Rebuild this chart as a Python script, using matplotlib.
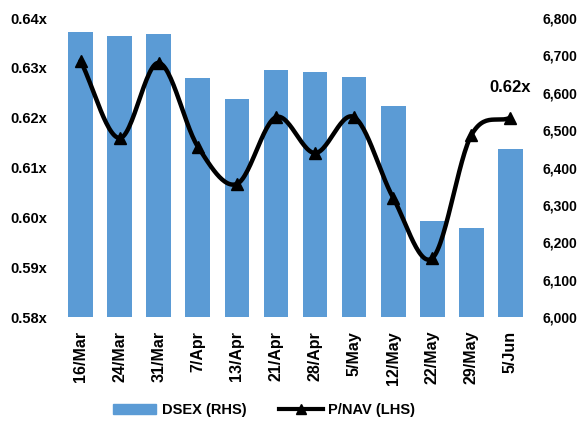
import numpy as np
import matplotlib.pyplot as plt
from matplotlib.lines import Line2D
from matplotlib.patches import Patch

plt.rcParams['font.family'] = ['Liberation Sans', 'DejaVu Sans']
plt.rcParams['font.weight'] = 'bold'

dates = ["16/Mar", "24/Mar", "31/Mar", "7/Apr", "13/Apr", "21/Apr",
         "28/Apr", "5/May", "12/May", "22/May", "29/May", "5/Jun"]
dsex = [6763, 6751, 6756, 6640, 6583, 6660, 6656, 6643, 6565, 6257, 6238, 6450]
pnav = [0.6314, 0.6159, 0.6310, 0.6142, 0.6067, 0.6201,
        0.6129, 0.6201, 0.6039, 0.5918, 0.6165, 0.6200]
last_label = "0.62x"


def catmull_rom(x, y, n=30):
    # smoothed line like excel's "smoothed line" option
    x = np.asarray(x, float)
    y = np.asarray(y, float)
    px = np.concatenate([[2 * x[0] - x[1]], x, [2 * x[-1] - x[-2]]])
    py = np.concatenate([[2 * y[0] - y[1]], y, [2 * y[-1] - y[-2]]])
    xs, ys = [], []
    t = np.linspace(0, 1, n)
    for i in range(1, len(px) - 2):
        for p, out in ((px, xs), (py, ys)):
            p0, p1, p2, p3 = p[i - 1], p[i], p[i + 1], p[i + 2]
            out.extend(0.5 * ((2 * p1) + (-p0 + p2) * t
                              + (2 * p0 - 5 * p1 + 4 * p2 - p3) * t ** 2
                              + (-p0 + 3 * p1 - 3 * p2 + p3) * t ** 3))
    return np.array(xs), np.array(ys)


fig = plt.figure(figsize=(5.82, 4.25), dpi=100)
ax2 = fig.add_axes([61 / 582, 1 - 317 / 425, (530 - 61) / 582, (317 - 18) / 425])
ax = ax2.twinx()
ax2.yaxis.tick_right()
ax.yaxis.tick_left()

x = np.arange(len(dates))
ax2.bar(x, dsex, width=0.63, color="#5b9bd5", bottom=0)
ax2.set_ylim(6000, 6800)
ax2.set_yticks(np.arange(6000, 6801, 100))
ax2.set_yticklabels([f"{v:,}" for v in range(6000, 6801, 100)])

sx, sy = catmull_rom(x, pnav)
ax.plot(sx, sy, color="black", lw=3.2, solid_capstyle="round")
ax.plot(x, pnav, linestyle="none", marker="^", color="black", markersize=9)
ax.set_ylim(0.58, 0.64)
ax.set_yticks(np.arange(0.58, 0.6401, 0.01))
ax.set_yticklabels([f"{v:.2f}x" for v in np.arange(0.58, 0.6401, 0.01)])
ax.text(x[-1], 0.626, last_label, fontsize=12, fontweight="bold",
        ha="center", va="center")

ax2.set_xlim(-0.5, len(dates) - 0.5)
ax2.set_xticks(x)
ax2.set_xticklabels(dates, rotation=90, fontsize=11.5, fontweight="bold")

for a in (ax, ax2):
    for s in a.spines.values():
        s.set_visible(False)
    a.tick_params(length=0)
ax.tick_params(axis="y", pad=10, labelsize=10.5)
ax2.tick_params(axis="y", pad=9, labelsize=10)
ax2.tick_params(axis="x", pad=10)

handles = [Patch(color="#5b9bd5"),
           Line2D([], [], color="black", lw=3, marker="^", markersize=7)]
fig.legend(handles, ["DSEX (RHS)", "P/NAV (LHS)"], loc="center",
           bbox_to_anchor=(264 / 582, 1 - 410 / 425), ncol=2, frameon=False,
           fontsize=10.5, handlelength=3.0, columnspacing=2.2, handletextpad=0.4)

fig.savefig("out.png", dpi=100)
